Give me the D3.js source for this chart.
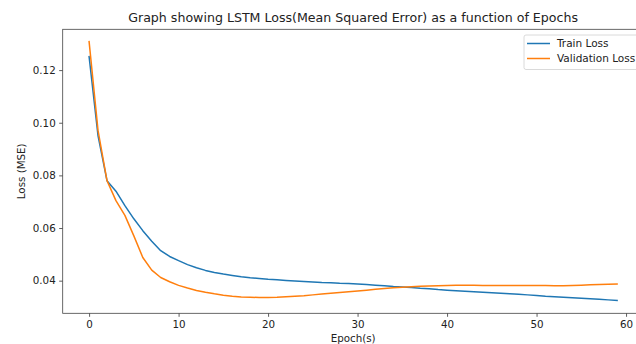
<!DOCTYPE html>
<html>
<head>
<meta charset="utf-8">
<script src="https://cdn.jsdelivr.net/npm/d3@7"></script>
<style>
  body { margin: 0; background: #fff; }
  svg { display: block; font-family: "DejaVu Sans", sans-serif; }
</style>
</head>
<body>
<script>
// epochs 0..59
var epochs = d3.range(0, 60);

var trainLoss = [
  0.1251, 0.0950, 0.0780, 0.0740, 0.0685, 0.0635, 0.0590, 0.0550, 0.0514, 0.0492,
  0.0476, 0.0461, 0.0449, 0.0439, 0.0431, 0.0425, 0.0420, 0.0415, 0.0411, 0.0408,
  0.0405, 0.0403, 0.0401, 0.0399, 0.0397, 0.0395, 0.0393, 0.0392, 0.0390, 0.0389,
  0.0387, 0.0385, 0.0383, 0.0381, 0.0378, 0.0376, 0.0374, 0.0371, 0.0369, 0.0366,
  0.0364, 0.0362, 0.0360, 0.0358, 0.0356, 0.0354, 0.0352, 0.0350, 0.0348, 0.0346,
  0.0344, 0.0341, 0.0339, 0.0337, 0.0335, 0.0333, 0.0331, 0.0329, 0.0327, 0.0325
];

var valLoss = [
  0.1308, 0.0970, 0.0780, 0.0704, 0.0648, 0.0570, 0.0488, 0.0440, 0.0412, 0.0396,
  0.0382, 0.0372, 0.0363, 0.0356, 0.0350, 0.0345, 0.0341, 0.0338, 0.0337, 0.0336,
  0.0336, 0.0337, 0.0339, 0.0341, 0.0343, 0.0346, 0.0349, 0.0352, 0.0355, 0.0358,
  0.0361, 0.0364, 0.0367, 0.0370, 0.0373, 0.0375, 0.0377, 0.0379, 0.0380, 0.0381,
  0.0382, 0.0383, 0.0383, 0.0383, 0.0382, 0.0382, 0.0382, 0.0382, 0.0382, 0.0382,
  0.0382, 0.0382, 0.0381, 0.0381, 0.0382, 0.0383, 0.0384, 0.0385, 0.0386, 0.0387
];

var xTicks = [0, 10, 20, 30, 40, 50, 60];
var yTicks = [0.04, 0.06, 0.08, 0.10, 0.12];
var seriesNames = ['Train Loss', 'Validation Loss'];
var colors = ['#1f77b4', '#ff7f0e'];

var width = 636, height = 344;
// plot box (right spine sits just outside the view, like the reference crop)
var plotL = 62.7, plotR = 643.5, plotT = 29.3, plotB = 313.3;

var svg = d3.select('body').append('svg')
  .attr('width', width).attr('height', height);

var x = d3.scaleLinear().domain([-2.95, 61.95]).range([plotL, plotR]);
var y = d3.scaleLinear().domain([0.0276, 0.1355]).range([plotB, plotT]);

// axes
var xAxis = svg.append('g')
  .attr('transform', 'translate(0,' + plotB + ')')
  .call(d3.axisBottom(x).tickValues(xTicks).tickSize(3.5).tickPadding(3.5).tickFormat(d3.format('d')));
var yAxis = svg.append('g')
  .attr('transform', 'translate(' + plotL + ',0)')
  .call(d3.axisLeft(y).tickValues(yTicks).tickSize(3.5).tickPadding(3.5).tickFormat(d3.format('.2f')));

[xAxis, yAxis].forEach(function (g) {
  g.select('.domain').remove();
  g.selectAll('line').attr('stroke', '#333').attr('stroke-width', 0.8);
  g.selectAll('text').attr('fill', '#222').style('font-size', '10.3px').style('font-family', '"DejaVu Sans", sans-serif');
});

// spines
svg.append('rect')
  .attr('x', plotL).attr('y', plotT)
  .attr('width', plotR - plotL).attr('height', plotB - plotT)
  .attr('fill', 'none').attr('stroke', '#444').attr('stroke-width', 0.8);

// lines
var line = d3.line()
  .x(function (d, i) { return x(epochs[i]); })
  .y(function (d) { return y(d); });

[trainLoss, valLoss].forEach(function (s, k) {
  svg.append('path')
    .datum(s)
    .attr('d', line)
    .attr('fill', 'none')
    .attr('stroke', colors[k])
    .attr('stroke-width', 1.5)
    .attr('stroke-linejoin', 'round')
    .attr('stroke-linecap', 'square');
});

// title and labels
svg.append('text')
  .attr('x', (plotL + plotR) / 2).attr('y', 22)
  .attr('text-anchor', 'middle')
  .style('font-size', '12.6px').attr('fill', '#222')
  .text('Graph showing LSTM Loss(Mean Squared Error) as a function of Epochs');

svg.append('text')
  .attr('x', (plotL + plotR) / 2).attr('y', 342)
  .attr('text-anchor', 'middle')
  .style('font-size', '10.3px').attr('fill', '#222')
  .text('Epoch(s)');

svg.append('text')
  .attr('transform', 'translate(25,' + ((plotT + plotB) / 2) + ') rotate(-90)')
  .attr('text-anchor', 'middle')
  .style('font-size', '10.3px').attr('fill', '#222')
  .text('Loss (MSE)');

// legend
var lg = svg.append('g');
lg.append('rect')
  .attr('x', 524).attr('y', 35)
  .attr('width', 116).attr('height', 34.5)
  .attr('rx', 2).attr('ry', 2)
  .attr('fill', '#fff').attr('fill-opacity', 0.8)
  .attr('stroke', '#d0d0d0').attr('stroke-width', 0.8);

seriesNames.forEach(function (name, k) {
  var ly = 43.5 + k * 15;
  lg.append('line')
    .attr('x1', 527).attr('x2', 550)
    .attr('y1', ly).attr('y2', ly)
    .attr('stroke', colors[k]).attr('stroke-width', 1.5);
  lg.append('text')
    .attr('x', 557).attr('y', ly + 3.7)
    .style('font-size', '10.5px').attr('fill', '#222')
    .text(name);
});
</script>
</body>
</html>
